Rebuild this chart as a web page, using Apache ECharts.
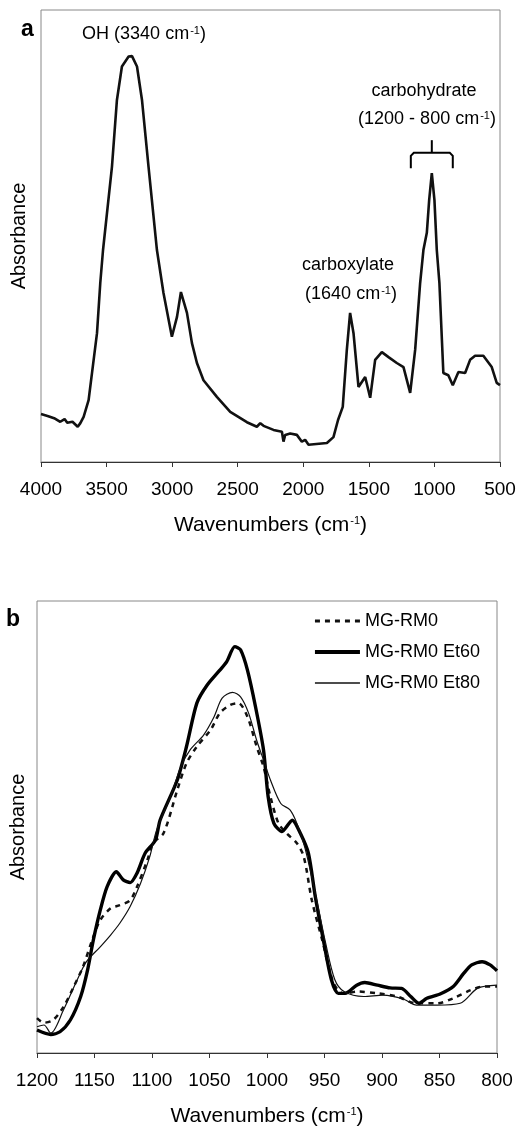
<!DOCTYPE html>
<html>
<head>
<meta charset="utf-8">
<title>FTIR spectra</title>
<script src="https://cdn.jsdelivr.net/npm/echarts@6/dist/echarts.min.js"></script>
<style>
  html, body { margin: 0; padding: 0; background: #fff; }
  #chart { width: 519px; height: 1130px; }
</style>
</head>
<body>
<div id="chart"></div>
<script>
// panel a - full spectrum (wavenumber, absorbance in arbitrary units 0-100)
const waveA = [4000, 3950, 3900, 3853, 3820, 3800, 3760, 3720, 3700, 3675, 3637, 3573, 3548, 3527,
  3459, 3421, 3383, 3332, 3306, 3268, 3230, 3180, 3116, 3066, 3002, 2963, 2933, 2887, 2849, 2811,
  2761, 2659, 2557, 2430, 2354, 2328, 2303, 2227, 2163, 2151, 2138, 2100, 2049, 2011, 1986, 1960,
  1820, 1770, 1735, 1699, 1668, 1643, 1617, 1579, 1528, 1490, 1452, 1401, 1350, 1287, 1236, 1185,
  1147, 1109, 1084, 1058, 1040, 1020, 1000, 982, 962, 932, 894, 860, 817, 766, 728, 690, 627, 563, 525, 500]
const absA = [10.6, 10.2, 9.7, 8.9, 9.5, 8.7, 8.9, 7.8, 8.6, 10.0, 13.7, 28.5, 39.6, 46.9,
  65.3, 80.1, 87.5, 89.7, 89.8, 87.5, 80.1, 65.3, 46.9, 37.4, 27.7, 32.1, 37.6, 33.0, 26.3, 21.9,
  18.1, 14.4, 11.1, 8.8, 7.8, 8.6, 8.0, 7.1, 6.7, 4.5, 6.0, 6.3, 6.0, 4.5, 4.9, 3.8,
  4.2, 5.5, 9.3, 12.2, 24.8, 33.0, 28.5, 16.6, 18.8, 14.2, 22.6, 24.3, 23.2, 21.9, 21.0, 15.3,
  24.8, 39.6, 46.9, 50.7, 58.0, 63.9, 58.0, 46.9, 39.6, 19.7, 19.2, 17.0, 19.9, 19.7, 22.6, 23.5, 23.5, 21.0, 17.5, 17.0]

// panel b - carbohydrate region, three samples
const seriesNames = ['MG-RM0', 'MG-RM0 Et60', 'MG-RM0 Et80']
const waveRM0 = [1200, 1194, 1186, 1177, 1168, 1160, 1152, 1145, 1136, 1128, 1119, 1113, 1104, 1099, 1090,
  1078, 1070, 1061, 1049, 1041, 1032, 1025, 1017, 1009, 1003, 997, 990, 983, 974, 968, 961, 952, 942,
  933, 922, 904, 887, 870, 852, 838, 823, 812, 800]
const absRM0 = [7.7, 6.7, 7.3, 10.2, 14.7, 19.1, 25.0, 29.4, 32.0, 32.7, 33.8, 36.8, 42.7, 46.5, 48.6,
  58.2, 64.1, 67.8, 71.5, 75.2, 77.0, 77.4, 74.4, 67.8, 63.3, 56.7, 50.8, 48.6, 46.4, 43.4, 33.8, 25.0, 15.4,
  13.1, 13.6, 13.2, 12.5, 11.0, 11.0, 12.1, 13.9, 14.7, 14.7]
const wave60 = [1200, 1188, 1180, 1171, 1162, 1156, 1151, 1145, 1139, 1131, 1125, 1119, 1113, 1106, 1097,
  1093, 1078, 1070, 1061, 1052, 1041, 1035, 1028, 1023, 1017, 1010, 1003, 999, 994, 987, 978, 971, 964,
  958, 951, 944, 938, 932, 922, 915, 904, 893, 883, 875, 868, 861, 849, 838, 829, 822, 813, 806, 800]
const abs60 = [5.1, 4.1, 4.7, 7.3, 12.5, 18.4, 25.0, 31.6, 36.8, 40.1, 38.3, 37.7, 39.8, 44.2, 47.1,
  51.5, 60.4, 67.8, 77.4, 81.4, 84.7, 86.6, 89.9, 89.2, 84.7, 76.6, 67.0, 56.7, 50.8, 49.0, 51.5, 48.6, 44.2,
  34.6, 25.0, 16.2, 13.2, 13.2, 15.0, 15.6, 15.0, 14.4, 14.3, 12.5, 11.0, 12.1, 13.1, 14.7, 17.6, 19.5, 20.2, 19.5, 18.2]
const wave80 = [1200, 1194, 1188, 1177, 1165, 1157, 1145, 1136, 1128, 1119, 1110, 1102, 1096, 1084, 1075,
  1067, 1055, 1046, 1039, 1030, 1023, 1016, 1009, 1003, 997, 988, 980, 974, 967, 958, 949, 941, 933,
  916, 899, 881, 870, 852, 832, 817, 800]
const abs80 = [5.8, 6.2, 4.4, 9.5, 16.2, 20.2, 23.5, 26.1, 28.7, 32.4, 37.5, 43.4, 49.3, 56.7, 63.3,
  67.0, 70.4, 74.4, 78.5, 79.8, 78.8, 75.2, 69.2, 64.8, 60.4, 55.2, 53.8, 50.8, 45.4, 35.3, 24.3, 16.2, 13.6,
  12.5, 12.8, 11.9, 10.6, 10.6, 11.0, 14.3, 15.0]

// carbohydrate bracket in panel a: wavenumber span, then absorbance of tick top / bar / ends
const bracketWave = [1180, 860]
const bracketAbs = [71.2, 68.4, 65.0]

const FONT = 'Liberation Sans'
const pairs = (xs, ys) => xs.map((x, i) => [x, ys[i]])

// line look of the three panel b curves (also used for the legend samples)
const lineLooks = [
  { color: '#111', width: 2.5, type: [5, 5] },
  { color: '#000', width: 3.4, type: 'solid' },
  { color: '#111', width: 1.2, type: 'solid' }
]

// text with a small raised "-1"
const supRich = {
  s: { fontSize: 11, fontFamily: FONT, verticalAlign: 'top', padding: [0, 0, 0, 1] }
}
function label (x, y, text, size) {
  return {
    type: 'text',
    x: x,
    y: y,
    style: {
      text: text,
      fontSize: size || 18,
      fontFamily: FONT,
      fill: '#000',
      align: 'center',
      verticalAlign: 'middle',
      rich: supRich
    }
  }
}

function xAxisOf (grid, min, max, step, gap) {
  return {
    gridIndex: grid,
    type: 'value',
    inverse: true,
    min: min,
    max: max,
    interval: step,
    axisLine: { lineStyle: { color: '#333', width: 1 } },
    axisTick: { show: true, length: 5, lineStyle: { color: '#333' } },
    axisLabel: { fontSize: 19, color: '#000', margin: 18, fontFamily: FONT, formatter: v => String(v) },
    splitLine: { show: false },
    name: 'Wavenumbers (cm{s|-1})',
    nameLocation: 'middle',
    nameGap: gap,
    nameTextStyle: { fontSize: 21, color: '#000', fontFamily: FONT, rich: supRich }
  }
}

function yAxisOf (grid, gap) {
  return {
    gridIndex: grid,
    type: 'value',
    min: 0,
    max: 100,
    axisLine: { show: false },
    axisTick: { show: false },
    axisLabel: { show: false },
    splitLine: { show: false },
    name: 'Absorbance',
    nameLocation: 'middle',
    nameGap: gap,
    nameTextStyle: { fontSize: 20, color: '#000', fontFamily: FONT }
  }
}

function curve (i, xs, ys, smooth) {
  return {
    name: seriesNames[i],
    type: 'line',
    xAxisIndex: 1,
    yAxisIndex: 1,
    data: pairs(xs, ys),
    symbol: 'none',
    smooth: smooth,
    itemStyle: { color: lineLooks[i].color },
    lineStyle: lineLooks[i]
  }
}

const myChart = echarts.init(document.getElementById('chart'))

const option = {
  animation: false,
  backgroundColor: '#fff',
  textStyle: { fontFamily: FONT },
  grid: [
    { left: 41, right: 19, top: 10, bottom: 668, show: true, borderColor: '#888', borderWidth: 1 },
    { left: 37, right: 22, top: 601, bottom: 77, show: true, borderColor: '#888', borderWidth: 1 }
  ],
  xAxis: [xAxisOf(0, 500, 4000, 500, 53), xAxisOf(1, 800, 1200, 50, 53)],
  yAxis: [yAxisOf(0, 12), yAxisOf(1, 9)],
  legend: {
    orient: 'vertical',
    left: 308,
    top: 607,
    itemWidth: 45,
    itemHeight: 14,
    itemGap: 13,
    data: seriesNames.map((n, i) => ({ name: n, lineStyle: { width: lineLooks[i].width + 0.5 } })),
    // line samples only, no marker on them
    itemStyle: { opacity: 0 },
    textStyle: { fontSize: 18, color: '#000', fontFamily: FONT }
  },
  series: [
    {
      name: 'spectrum',
      type: 'line',
      xAxisIndex: 0,
      yAxisIndex: 0,
      data: pairs(waveA, absA),
      symbol: 'none',
      lineStyle: { color: '#111', width: 2.6 }
    },
    curve(0, waveRM0, absRM0, 0.3),
    curve(1, wave60, abs60, 0.25),
    curve(2, wave80, abs80, 0.3)
  ]
}
myChart.setOption(option)

// annotations, bracket placed through the panel a scales
const toPx = p => myChart.convertToPixel({ gridIndex: 0 }, p)
const bl = toPx([bracketWave[0], bracketAbs[1]])
const br = toPx([bracketWave[1], bracketAbs[1]])
const bc = toPx([(bracketWave[0] + bracketWave[1]) / 2, bracketAbs[0]])
const yEnd = toPx([bracketWave[0], bracketAbs[2]])[1]

myChart.setOption({
  graphic: [
    { type: 'text', x: 21, y: 30, style: { text: 'a', fontSize: 23, fontWeight: 'bold', fontFamily: FONT, fill: '#000', verticalAlign: 'middle' } },
    { type: 'text', x: 6, y: 620, style: { text: 'b', fontSize: 23, fontWeight: 'bold', fontFamily: FONT, fill: '#000', verticalAlign: 'middle' } },
    label(144, 34, 'OH (3340 cm{s|-1})'),
    label(424, 91, 'carbohydrate'),
    label(427, 119, '(1200 - 800 cm{s|-1})'),
    label(348, 265, 'carboxylate'),
    label(351, 294, '(1640 cm{s|-1})'),
    {
      type: 'polyline',
      shape: { points: [[bl[0], yEnd], [bl[0], bl[1] + 3], [bl[0] + 3, bl[1]], [br[0] - 3, br[1]], [br[0], br[1] + 3], [br[0], yEnd]] },
      style: { stroke: '#000', lineWidth: 2, fill: null }
    },
    {
      type: 'polyline',
      shape: { points: [[bc[0], bl[1]], [bc[0], bc[1]]] },
      style: { stroke: '#000', lineWidth: 2, fill: null }
    }
  ]
})
</script>
</body>
</html>
